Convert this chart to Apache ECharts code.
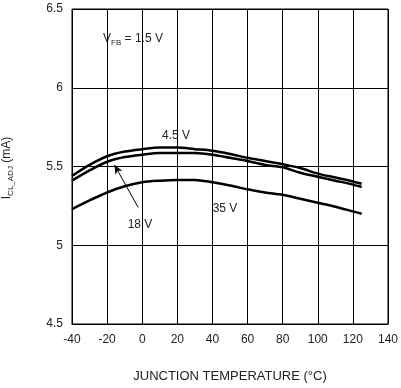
<!DOCTYPE html>
<html>
<head>
<meta charset="utf-8">
<script src="https://cdn.jsdelivr.net/npm/echarts@6/dist/echarts.min.js"></script>
<style>
html,body{margin:0;padding:0;background:#fff;}
#c{width:401px;height:388px;}
</style>
</head>
<body>
<div id="c"></div>
<script>
const temps = [-40,-30,-20,-10,0,10,20,30,40,50,60,70,80,90,100,110,120,125];
const v45 = [5.44,5.51,5.565,5.595,5.61,5.62,5.62,5.61,5.60,5.58,5.555,5.535,5.515,5.49,5.455,5.43,5.405,5.39];
const v18 = [5.41,5.475,5.53,5.56,5.575,5.585,5.585,5.585,5.575,5.555,5.535,5.51,5.495,5.46,5.435,5.41,5.385,5.37];
const v35 = [5.23,5.285,5.335,5.375,5.40,5.41,5.415,5.415,5.40,5.38,5.355,5.335,5.32,5.295,5.27,5.245,5.215,5.20];
const xTicks = [-40,-20,0,20,40,60,80,100,120,140];
const yTicks = [4.5,5,5.5,6,6.5];

const font = 'Liberation Sans, Arial, sans-serif';
const chart = echarts.init(document.getElementById('c'), null, {renderer:'canvas'});
const mk = (arr) => temps.map((t,i)=>[t,arr[i]]);
const lineS = (name, arr, extra) => Object.assign({
  name, type:'line', data: mk(arr), smooth:0.3, showSymbol:false,
  lineStyle:{color:'#000', width:2.5}, silent:true, animation:false
}, extra||{});
const richSub = {
  a:{fontSize:12,fontFamily:font,fill:'#222',lineHeight:14,verticalAlign:'top'},
  b:{fontSize:8,fontFamily:font,fill:'#222',lineHeight:9,verticalAlign:'bottom'}
};

chart.setOption({
  animation:false,
  grid:{left:72,right:9,top:9,bottom:60,show:true,borderColor:'#000',borderWidth:1},
  xAxis:{type:'value',min:xTicks[0],max:xTicks[xTicks.length-1],interval:20,
    axisLine:{lineStyle:{color:'#000',width:1}},axisTick:{show:false},
    axisLabel:{color:'#222',fontFamily:font,fontSize:12,margin:10},
    splitLine:{show:true,lineStyle:{color:'#000',width:1}},
    name:'JUNCTION TEMPERATURE (°C)',nameLocation:'middle',nameGap:46,
    nameTextStyle:{color:'#222',fontFamily:font,fontSize:13}},
  yAxis:{type:'value',min:yTicks[0],max:yTicks[yTicks.length-1],interval:0.5,
    axisLine:{show:true,lineStyle:{color:'#000',width:1}},axisTick:{show:false},
    axisLabel:{color:'#222',fontFamily:font,fontSize:12,margin:9},
    splitLine:{show:true,lineStyle:{color:'#000',width:1}}},
  series:[
    lineS('4.5 V', v45),
    lineS('18 V', v18, {markLine:{silent:true,symbol:['none','arrow'],symbolSize:[6,9],
      label:{show:false},lineStyle:{color:'#000',width:1,type:'solid'},
      data:[[{coord:[-2.3,5.24]},{coord:[-15.8,5.51]}]]}}),
    lineS('35 V', v35)
  ],
  graphic:[
    {type:'text',x:8,y:168,rotation:Math.PI/2,style:{
      text:'{a|I}{b|CL_ADJ}{a| (mA)}',align:'center',verticalAlign:'middle',rich:richSub}},
    {type:'text',x:103,y:40,style:{
      text:'{a|V}{b|FB}{a| = 1.5 V}',align:'left',verticalAlign:'middle',rich:richSub}},
    {type:'text',x:176,y:136,style:{text:'4.5 V',fontSize:12,fontFamily:font,fill:'#222',align:'center',verticalAlign:'middle'}},
    {type:'text',x:140,y:225,style:{text:'18 V',fontSize:12,fontFamily:font,fill:'#222',align:'center',verticalAlign:'middle'}},
    {type:'text',x:225,y:209,style:{text:'35 V',fontSize:12,fontFamily:font,fill:'#222',align:'center',verticalAlign:'middle'}}
  ]
});
</script>
</body>
</html>
